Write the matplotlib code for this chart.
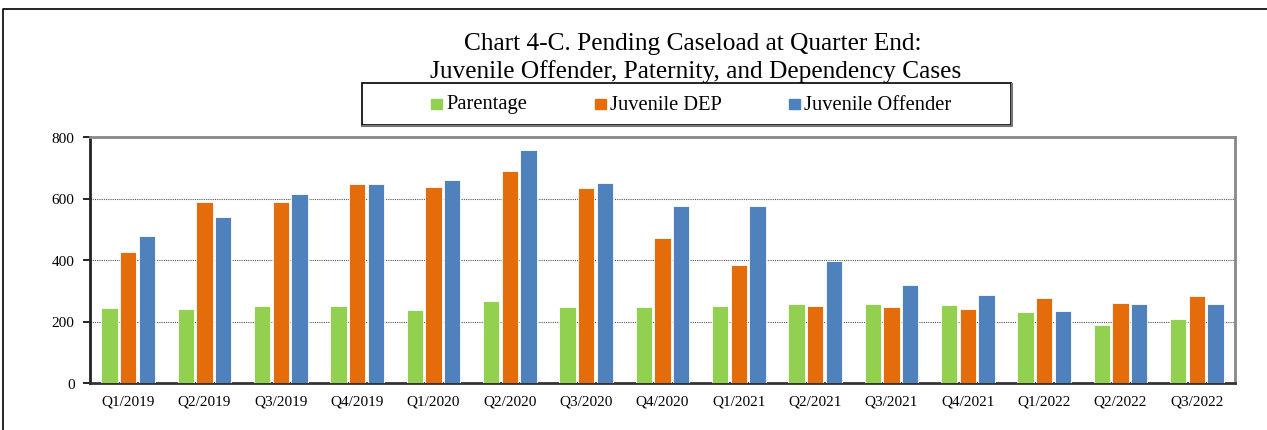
import numpy as np
import matplotlib
matplotlib.use('Agg')
import matplotlib.pyplot as plt
from matplotlib.lines import Line2D

plt.rcParams['font.family'] = ['Liberation Serif', 'DejaVu Serif']

quarters = ['Q1/2019', 'Q2/2019', 'Q3/2019', 'Q4/2019', 'Q1/2020', 'Q2/2020',
            'Q3/2020', 'Q4/2020', 'Q1/2021', 'Q2/2021', 'Q3/2021', 'Q4/2021',
            'Q1/2022', 'Q2/2022', 'Q3/2022']
parentage = [244, 241, 251, 249, 237, 266, 247, 246, 252, 257, 258, 254, 230, 190, 209]
juvenile_dep = [426, 590, 587, 647, 638, 691, 635, 470, 383, 251, 248, 240, 278, 261, 284]
juvenile_offender = [478, 539, 614, 647, 659, 757, 649, 574, 574, 396, 320, 286, 233, 257, 257]

series = [('Parentage', parentage, '#92D050'),
          ('Juvenile DEP', juvenile_dep, '#E46C0A'),
          ('Juvenile Offender', juvenile_offender, '#4F81BD')]

fig = plt.figure(figsize=(12.67, 4.31), dpi=100)
W, H = 1267, 431
ax = fig.add_axes([90 / W, 1 - 384 / H, (1235 - 90) / W, (384 - 138) / H])

x = np.arange(len(quarters))
pitch = 0.245
for i, (name, vals, col) in enumerate(series):
    ax.bar(x + (i - 1) * pitch, vals, width=0.215, color=col,
           edgecolor='white', linewidth=0.6, label=name, zorder=3)

ax.set_xlim(-0.5, len(quarters) - 0.5)
ax.set_ylim(0, 800)
ax.set_yticks([0, 200, 400, 600, 800])
ax.set_xticks(x)
ax.set_xticklabels(quarters, fontsize=11)
ax.tick_params(axis='x', length=0, pad=8)
ax.tick_params(axis='y', labelsize=11, length=5, width=1.2, direction='out', pad=6)
ax.yaxis.grid(True, linestyle=(0, (1, 1)), color='#555555', linewidth=0.8, zorder=0)

ax.spines['left'].set_linewidth(2)
ax.spines['left'].set_color('#222222')
ax.spines['bottom'].set_linewidth(2)
ax.spines['bottom'].set_color('#333333')
ax.spines['top'].set_linewidth(2)
ax.spines['top'].set_color('#888888')
ax.spines['right'].set_linewidth(2)
ax.spines['right'].set_color('#888888')

fig.text(693 / W, 1 - 44 / H, 'Chart 4-C. Pending Caseload at Quarter End:',
         ha='center', va='center', fontsize=18.3)
fig.text(696 / W, 1 - 72 / H, 'Juvenile Offender, Paternity, and Dependency Cases',
         ha='center', va='center', fontsize=18.3)

# legend box
fig.add_artist(plt.Rectangle((362 / W, 1 - 126 / H), (1011 - 362) / W, (126 - 84) / H,
                             transform=fig.transFigure, fill=False,
                             edgecolor='black', linewidth=1.2))
shadow_x = [362 / W, 1012 / W, 1012 / W]
shadow_y = [1 - 127 / H, 1 - 127 / H, 1 - 85 / H]
fig.add_artist(Line2D(shadow_x, shadow_y, transform=fig.transFigure,
                      color='#777777', linewidth=1.5))
leg_pos = [431, 595, 789]
for (name, vals, col), px in zip(series, leg_pos):
    fig.add_artist(plt.Rectangle((px / W, 1 - 110 / H), 11 / W, 10 / H,
                                 transform=fig.transFigure, color=col))
    fig.text((px + 15) / W, 1 - 105 / H, name, ha='left', va='center', fontsize=14.8)

# outer frame
fig.add_artist(Line2D([3 / W, 3 / W, 1], [0, 1 - 10 / H, 1 - 10 / H],
                      transform=fig.transFigure, color='black', linewidth=1.2))

fig.savefig('out.png', dpi=100)
